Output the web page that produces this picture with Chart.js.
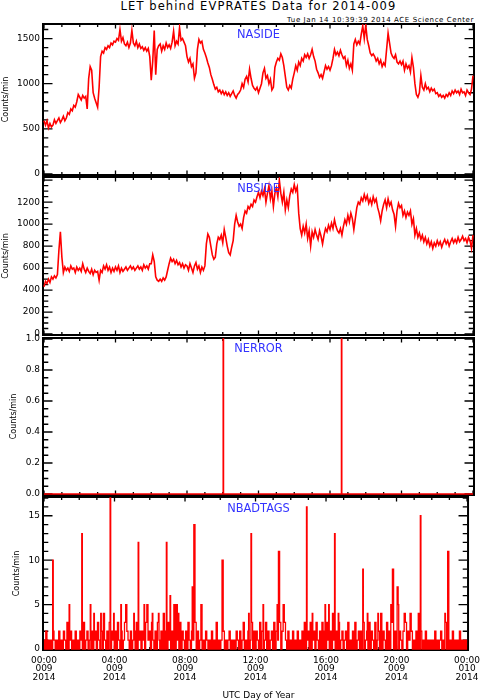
<!DOCTYPE html>
<html>
<head>
<meta charset="utf-8">
<script src="https://cdn.jsdelivr.net/npm/chart.js@4.4.1/dist/chart.umd.min.js"></script>
<style>
  body { margin: 0; background: #fff; }
  #page { position: relative; width: 487px; height: 700px; overflow: hidden; background: #fff;
          font-family: "DejaVu Sans", sans-serif; }
  canvas { position: absolute; left: 0; }
  .txt { position: absolute; white-space: nowrap; color: #000; }
  .lab { position: absolute; white-space: nowrap; color: #3333ff; font-size: 11.4px; line-height: 11.4px;
         left: 0; width: 517px; text-align: center; }
</style>
</head>
<body>
<div id="page">
  <div class="txt" style="left:0;width:517px;text-align:center;top:1px;font-size:11.5px;line-height:11.5px;letter-spacing:1.1px;">LET behind EVPRATES Data for 2014-009</div>
  <div class="txt" style="right:13px;top:17px;font-size:7px;line-height:7px;letter-spacing:0.6px;">Tue Jan 14 10:39:39 2014 ACE Science Center</div>

  <canvas id="c1" width="487" height="173" style="top:13px"></canvas>
  <canvas id="c2" width="487" height="180" style="top:166px"></canvas>
  <canvas id="c3" width="487" height="179" style="top:327px"></canvas>
  <canvas id="c4" width="487" height="214" style="top:486px"></canvas>

  <div class="lab" style="top:29px">NASIDE</div>
  <div class="lab" style="top:183px">NBSIDE</div>
  <div class="lab" style="top:343px">NERROR</div>
  <div class="lab" style="top:503px">NBADTAGS</div>

  <div class="txt" style="left:0;width:517px;text-align:center;top:691px;font-size:9px;line-height:9px;">UTC Day of Year</div>
</div>
<script>
// x axis (minutes of day 009)
var xTickMinutes = [0, 240, 480, 720, 960, 1200, 1440];
var xTickLabels = [
  ['00:00', '009', '2014'], ['04:00', '009', '2014'], ['08:00', '009', '2014'],
  ['12:00', '009', '2014'], ['16:00', '009', '2014'], ['20:00', '009', '2014'],
  ['00:00', '010', '2014']
];

// y tick labels per panel
var nasideTicks = [0, 500, 1000, 1500];
var nbsideTicks = [0, 200, 400, 600, 800, 1000, 1200];
var nerrorTicks = [0, 0.2, 0.4, 0.6, 0.8, 1.0];
var nbadTicks = [0, 5, 10, 15];

// NASIDE, one value every 5 minutes
var nasideStep = 5;
var naside = [
  590, 540, 590, 510, 560, 520, 540, 600, 560, 590, 620, 570,
  600, 640, 590, 620, 680, 660, 720, 700, 760, 740, 800, 880,
  850, 820, 870, 840, 860, 720, 1060, 1190, 1150, 900, 840, 790,
  740, 960, 1300, 1360, 1340, 1400, 1380, 1420, 1400, 1450, 1430, 1470,
  1460, 1500, 1480, 1600, 1470, 1510, 1440, 1420, 1460, 1400, 1450, 1590,
  1450, 1420, 1470, 1400, 1440, 1390, 1410, 1370, 1400, 1360, 1390, 1300,
  1040, 1250, 1590, 1100, 1380, 1420, 1440, 1360, 1420, 1380, 1450, 1400,
  1430, 1390, 1460, 1580, 1420, 1470, 1440, 1620, 1480, 1500, 1460, 1420,
  1300, 1240, 1280, 1190, 1220, 1060, 1120, 1380, 1490, 1450, 1470, 1380,
  1340, 1290, 1230, 1180, 1100, 1050, 990, 940, 960, 910, 930, 890,
  920, 880, 910, 870, 900, 860, 890, 920, 870, 840, 880, 900,
  930, 1000, 960, 1050, 1080, 1020, 1160, 1060, 980, 950, 930, 960,
  900, 950, 1000, 1120, 1170, 1060, 1090, 1000, 1050, 930, 960, 1180,
  1240, 1280, 1260, 1330, 1290, 1200, 1080, 960, 930, 980, 950, 1050,
  1120, 1200, 1150, 1240, 1200, 1280, 1250, 1320, 1290, 1330, 1280, 1320,
  1380, 1300, 1250, 1160, 1120, 1070, 1100, 1060, 1130, 1200, 1160, 1190,
  1150, 1200, 1280, 1380, 1320, 1350, 1310, 1370, 1320, 1280, 1300, 1200,
  1260, 1170, 1220, 1150, 1440, 1490, 1430, 1470, 1440, 1550, 1640, 1500,
  1650, 1490, 1420, 1340, 1310, 1330, 1300, 1250, 1280, 1220, 1260, 1190,
  1230, 1200, 1380, 1560, 1450, 1340, 1300, 1280, 1320, 1240, 1220, 1250,
  1210, 1250, 1150, 1220, 1170, 1200, 1130, 1290, 1180, 1000, 880, 850,
  900, 1090, 960, 930, 1000, 940, 960, 910, 950, 920, 940, 890,
  900, 860, 880, 850, 870, 840, 880, 860, 900, 870, 920, 890,
  930, 900, 920, 880, 940, 900, 910, 870, 930, 900, 880, 940,
  1090
];

// NBSIDE, one value every 5 minutes
var nbsideStep = 5;
var nbside = [
  430, 480, 460, 500, 470, 520, 500, 530, 510, 540, 760, 930,
  700, 560, 610, 580, 600, 570, 620, 590, 600, 560, 610, 580,
  600, 570, 640, 590, 560, 600, 570, 550, 590, 540, 580, 560,
  570, 490, 580, 560, 620, 590, 630, 580, 610, 560, 600, 570,
  610, 580, 620, 560, 600, 570, 590, 610, 580, 600, 620, 590,
  610, 580, 600, 620, 590, 610, 580, 630, 600, 620, 590, 640,
  640, 720, 660, 520, 490, 480, 500, 480, 510, 490, 520, 580,
  640, 690, 660, 680, 640, 670, 630, 650, 610, 640, 600, 630,
  620, 580, 640, 600, 560, 620, 650, 590, 620, 560, 610, 580,
  620, 820, 910, 880, 800, 720, 680, 700, 820, 880, 860, 900,
  830, 950, 880, 800, 740, 720, 790, 850, 1000, 1080, 1020, 980,
  1000, 960, 1060, 1120, 1100, 1160, 1140, 1180, 1160, 1220, 1200, 1250,
  1290, 1240, 1300, 1260, 1320, 1200, 1280, 1350, 1230, 1300, 1160, 1280,
  1330, 1250, 1400, 1280, 1200, 1290, 1130, 1220, 1150, 1260, 1320, 1290,
  1360, 1300, 1340, 1100, 960, 900, 980, 920, 1000, 870, 940, 800,
  930, 880, 950, 900, 860, 940, 890, 820, 900, 960, 930, 990,
  950, 1010, 960, 1040, 980, 940, 920, 960, 900, 980, 1040, 1000,
  1080, 1020, 1100, 1050, 950, 1050, 1150, 1200, 1180, 1240, 1210, 1270,
  1220, 1260, 1190, 1230, 1180, 1250, 1200, 1230, 1150, 1100, 1030, 1120,
  1180, 1220, 1150, 1230, 1170, 1200, 1130, 1090, 980, 1120, 1190, 1150,
  1170, 1080, 1120, 1060, 1110, 1080, 1120, 1000, 1050, 900, 960, 880,
  920, 860, 900, 840, 880, 820, 860, 800, 840, 780, 830, 800,
  850, 810, 840, 790, 830, 860, 820, 850, 800, 840, 870, 830,
  860, 830, 880, 840, 860, 890, 850, 870, 830, 880, 850, 780,
  900
];

// NERROR: zero all day except two single-minute counts
var nerrorMin = [0, 601, 602, 603, 998, 999, 1000, 1440];
var nerrorVal = [0, 0, 1, 0, 0, 1, 0, 0];

// NBADTAGS background counts, one value every 4 minutes
var nbadStep = 4;
var nbadBase = [
  1, 0, 2, 0, 1, 0, 1, 0, 2, 1, 0, 1, 0, 2, 0,
  1, 0, 2, 1, 0, 3, 0, 1, 2, 0, 1, 0, 2, 0, 1,
  0, 2, 1, 0, 3, 0, 1, 2, 0, 1, 0, 2, 0, 1, 2,
  0, 3, 1, 0, 2, 0, 3, 1, 0, 2, 0, 3, 0, 2, 1,
  0, 2, 0, 3, 1, 0, 2, 0, 1, 3, 0, 2, 1, 0, 2,
  0, 1, 2, 0, 3, 0, 1, 2, 0, 2, 1, 0, 3, 0, 1,
  2, 0, 3, 1, 0, 2, 0, 3, 1, 0, 2, 0, 4, 0, 2,
  0, 3, 1, 0, 2, 0, 3, 0, 2, 1, 0, 3, 0, 2, 1,
  0, 2, 0, 3, 1, 0, 2, 1, 0, 3, 0, 2, 0, 1, 2,
  0, 1, 0, 2, 1, 0, 1, 0, 2, 0, 1, 0, 3, 0, 1,
  0, 1, 0, 2, 0, 1, 0, 1, 2, 0, 1, 0, 1, 0, 2,
  1, 0, 2, 0, 1, 3, 0, 1, 0, 2, 0, 1, 3, 0, 2,
  0, 2, 1, 0, 3, 0, 2, 0, 1, 3, 0, 2, 0, 1, 2,
  0, 3, 0, 2, 1, 0, 3, 0, 2, 0, 3, 1, 0, 2, 0,
  1, 0, 2, 0, 1, 0, 2, 0, 1, 0, 2, 0, 3, 0, 1,
  2, 0, 3, 0, 1, 2, 0, 3, 1, 0, 2, 0, 3, 0, 2,
  0, 3, 1, 0, 2, 0, 4, 1, 0, 2, 0, 3, 0, 1, 2,
  0, 1, 2, 0, 3, 0, 1, 0, 2, 0, 3, 0, 1, 2, 0,
  2, 0, 3, 0, 1, 2, 0, 3, 0, 2, 1, 0, 3, 0, 1,
  2, 0, 3, 0, 2, 1, 0, 3, 0, 2, 0, 3, 1, 0, 2,
  0, 3, 0, 2, 1, 0, 2, 0, 3, 0, 2, 1, 0, 2, 0,
  1, 0, 2, 0, 1, 0, 2, 0, 1, 0, 2, 0, 1, 0, 1,
  0, 1, 0, 2, 0, 1, 0, 1, 2, 0, 1, 0, 3, 0, 1,
  0, 1, 0, 2, 0, 1, 0, 1, 0, 2, 0, 1, 0, 1, 0,
  1
];
// NBADTAGS single-minute bursts
var nbadSpikeMin = [31, 87, 129, 159, 171, 194, 204, 226, 238, 263, 280, 307, 321, 341, 352, 369, 391, 408,
  417, 430, 444, 452, 458, 505, 512, 536, 608, 697, 705, 747, 795, 800, 816, 895, 914, 957, 970, 990, 1003,
  1086, 1101, 1137, 1148, 1181, 1188, 1204, 1207, 1228, 1248, 1276, 1282, 1365, 1376];
var nbadSpikeVal = [10, 5, 13, 5, 4, 4, 4, 17, 4, 5, 5, 4, 12, 5, 5, 4, 4, 4,
  12, 6, 5, 5, 4, 7, 14, 5, 10, 4, 13, 5, 5, 11, 5, 16, 4, 5, 5, 13, 4,
  9, 4, 4, 4, 5, 9, 7, 5, 4, 4, 4, 15, 4, 11];

function stepPoints(values, step) {
  return values.map(function(v, i) { return {x: i * step, y: v}; });
}
function pairPoints(xs, ys) {
  return xs.map(function(m, i) { return {x: m, y: ys[i]}; });
}
function mergedPoints(base, step, spikeX, spikeY) {
  var byMin = {};
  base.forEach(function(v, i) { byMin[i * step] = v; });
  spikeX.forEach(function(m, i) { byMin[m] = spikeY[i]; });
  return Object.keys(byMin).map(Number).sort(function(a, b) { return a - b; })
    .map(function(m) { return {x: m, y: byMin[m]}; });
}

Chart.defaults.font.family = "'DejaVu Sans', sans-serif";
Chart.defaults.color = '#000';

// IDL style frame with inward ticks on all four sides
var idlAxes = {
  id: 'idlAxes',
  beforeDatasetsDraw: function(chart, args, opts) {
    var ctx = chart.ctx, a = chart.chartArea;
    var x = chart.scales.x, y = chart.scales.y;
    ctx.save();
    ctx.strokeStyle = '#000';
    ctx.lineWidth = 1.3;
    ctx.beginPath();
    for (var m = 0; m <= 1440; m += 60) {
      var px = x.getPixelForValue(m);
      var xl = (m % 240 === 0) ? 3.5 : 2;
      ctx.moveTo(px, a.bottom); ctx.lineTo(px, a.bottom - xl);
      ctx.moveTo(px, a.top); ctx.lineTo(px, a.top + xl);
    }
    var n = Math.round((y.max - y.min) / opts.minor);
    for (var i = 0; i <= n; i++) {
      var v = y.min + i * opts.minor;
      if (v > y.max + 1e-9) break;
      var py = y.getPixelForValue(v);
      var yl = (i % opts.per === 0) ? 8.5 : 4.3;
      ctx.moveTo(a.left, py); ctx.lineTo(a.left + yl, py);
      ctx.moveTo(a.right, py); ctx.lineTo(a.right - yl, py);
    }
    ctx.stroke();
    ctx.lineWidth = 2;
    ctx.strokeRect(a.left - 1, a.top - 1, a.right - a.left + 2, a.bottom - a.top + 2);
    ctx.restore();
  }
};

function makePanel(id, points, yMax, yTicks, minor, per, titlePad, decimals, bottomAxis, padBottom, lineW, stepped) {
  return new Chart(document.getElementById(id), {
    type: 'line',
    data: { datasets: [{ data: points, borderColor: '#ff0000', borderWidth: lineW, stepped: stepped,
      pointRadius: 0, tension: 0, fill: false, clip: 1 }] },
    options: {
      responsive: false,
      animation: false,
      devicePixelRatio: 1,
      events: [],
      layout: { autoPadding: false, padding: { left: 0, right: 14, top: 12, bottom: padBottom } },
      plugins: { legend: { display: false }, tooltip: { enabled: false },
        idlAxes: { minor: minor, per: per } },
      scales: {
        x: {
          type: 'linear', min: 0, max: 1440,
          display: bottomAxis,
          grid: { display: false, drawTicks: false },
          border: { display: false },
          afterBuildTicks: function(s) { s.ticks = xTickMinutes.map(function(v) { return {value: v}; }); },
          afterFit: function(s) { s.height = bottomAxis ? 40 : 0; },
          ticks: {
            autoSkip: false, maxRotation: 0, padding: 7,
            font: { size: 9, lineHeight: 0.95 },
            callback: function(v) { return xTickLabels[xTickMinutes.indexOf(v)]; }
          }
        },
        y: {
          min: 0, max: yMax,
          afterFit: function(s) { s.width = 44; },
          afterBuildTicks: function(s) { s.ticks = yTicks.map(function(v) { return {value: v}; }); },
          grid: { display: false, drawTicks: false },
          border: { display: false },
          ticks: {
            autoSkip: false, padding: 4, font: { size: 9 },
            callback: function(v) { return decimals ? v.toFixed(decimals) : String(v); }
          },
          title: { display: true, text: 'Counts/min', font: { size: 8 },
            padding: { top: titlePad, bottom: 0 } }
        }
      }
    },
    plugins: [idlAxes]
  });
}

makePanel('c1', stepPoints(naside, nasideStep), 1650, nasideTicks, 100, 5, 1.5, 0, false, 12, 1.6, false);
makePanel('c2', stepPoints(nbside, nbsideStep), 1420, nbsideTicks, 50, 4, 1.5, 0, false, 12, 1.6, false);
makePanel('c3', pairPoints(nerrorMin, nerrorVal), 1, nerrorTicks, 0.05, 4, 9.5, 1, false, 12, 1.5, 'middle');
makePanel('c4', mergedPoints(nbadBase, nbadStep, nbadSpikeMin, nbadSpikeVal), 17, nbadTicks, 1, 5, 12.5, 0, true, 11, 1.3, 'middle');
</script>
</body>
</html>
